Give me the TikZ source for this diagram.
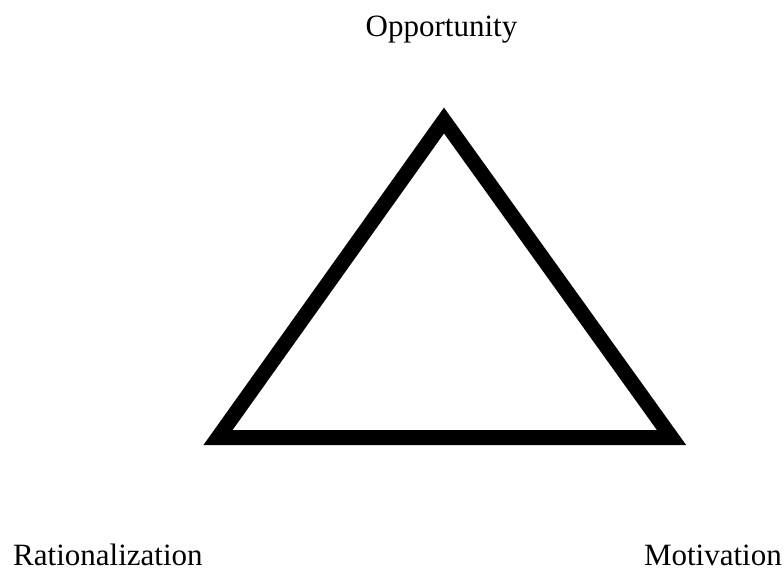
\documentclass[tikz,border=0pt]{standalone}
\usepackage{fontspec}
\setmainfont{Liberation Serif}
\usepackage{tikz}

\begin{document}
\begin{tikzpicture}[x=1pt, y=1pt, cornertext/.style={inner sep=0pt, font=\fontsize{31}{36}\selectfont}]
		\useasboundingbox (0,0) rectangle (784,574);
		\coordinate (top) at (444, 453.5);
		\coordinate (left) at (218, 136.5);
		\coordinate (right) at (671.5, 136.5);
		\draw[line width=15pt, line join=miter] (top) -- (right) -- (left) -- cycle;
		% the three corners of the triangle
		\node[cornertext, anchor=base] (opp) at (441.5, 537) {Opportunity};
		\node[cornertext, anchor=base west] (rat) at (13, 9) {Rationalization};
		\node[cornertext, anchor=base east] (mot) at (782, 9) {Motivation};
	\end{tikzpicture}
\end{document}
